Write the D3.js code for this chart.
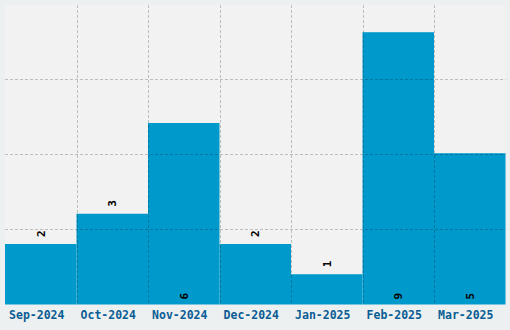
<!DOCTYPE html>
<html><head><meta charset="utf-8">
<script src="https://cdn.jsdelivr.net/npm/d3@7"></script>
<style>html,body{margin:0;padding:0;background:#edf0f0;}svg{display:block;}</style>
</head><body><div id="chart"></div>
<script>
const categories = ["Sep-2024","Oct-2024","Nov-2024","Dec-2024","Jan-2025","Feb-2025","Mar-2025"];
const values = [2,3,6,2,1,9,5];
const gridFractions = [0.25,0.5,0.75];

const W = 510, H = 330;
const m = {left:5, right:4.5, top:5, bottom:25.5};
const iw = W - m.left - m.right, ih = H - m.top - m.bottom;

const svg = d3.select("#chart").append("svg").attr("width",W).attr("height",H);
svg.append("rect").attr("width",W).attr("height",H).attr("fill","#edf0f0");
const g = svg.append("g").attr("transform",`translate(${m.left},${m.top})`);
g.append("rect").attr("width",iw).attr("height",ih).attr("fill","#f2f2f2");

const x = d3.scaleBand().domain(categories).range([0,iw]).padding(0);
const y = d3.scaleLinear().domain([0, d3.max(values)*1.1]).range([ih,0]);

g.selectAll("rect.bar").data(values).join("rect").attr("class","bar")
  .attr("x",(d,i)=>x(categories[i])).attr("width",x.bandwidth())
  .attr("y",d=>y(d)).attr("height",d=>ih-y(d)).attr("fill","#0099cc");

// grid on top
const grid = g.append("g").attr("stroke","rgba(0,0,0,0.22)").attr("stroke-dasharray","3,2").attr("stroke-width",1);
grid.selectAll("line.h").data(gridFractions).join("line")
  .attr("x1",0).attr("x2",iw).attr("y1",f=>Math.round(ih*f)-0.5).attr("y2",f=>Math.round(ih*f)-0.5);
grid.selectAll("line.v").data(categories.slice(1)).join("line")
  .attr("y1",0).attr("y2",ih).attr("x1",c=>Math.round(x(c))+0.5).attr("x2",c=>Math.round(x(c))+0.5);

// value labels
g.selectAll("text.val").data(values).join("text").attr("class","val")
  .attr("transform",(d,i)=>{
    const cx = x(categories[i]) + x.bandwidth()/2;
    const inside = d > 4;
    const yy = inside ? ih - 5 : y(d) - 7;
    return `translate(${cx},${yy}) rotate(-90)`;
  })
  .attr("dy","0.35em").attr("text-anchor","start")
  .attr("font-family","'DejaVu Sans Mono', monospace").attr("font-weight","bold")
  .attr("font-size","11px").attr("fill","#000")
  .text(d=>d);

// x axis
const xa = g.append("g").attr("transform",`translate(0,${ih})`).call(d3.axisBottom(x).tickSize(0).tickPadding(6));
xa.select(".domain").remove();
xa.selectAll("text").attr("x",-4).attr("font-family","'DejaVu Sans Mono', monospace").attr("font-weight","bold")
  .attr("font-size","11.5px").attr("fill","#0a5d94");
</script></body></html>
